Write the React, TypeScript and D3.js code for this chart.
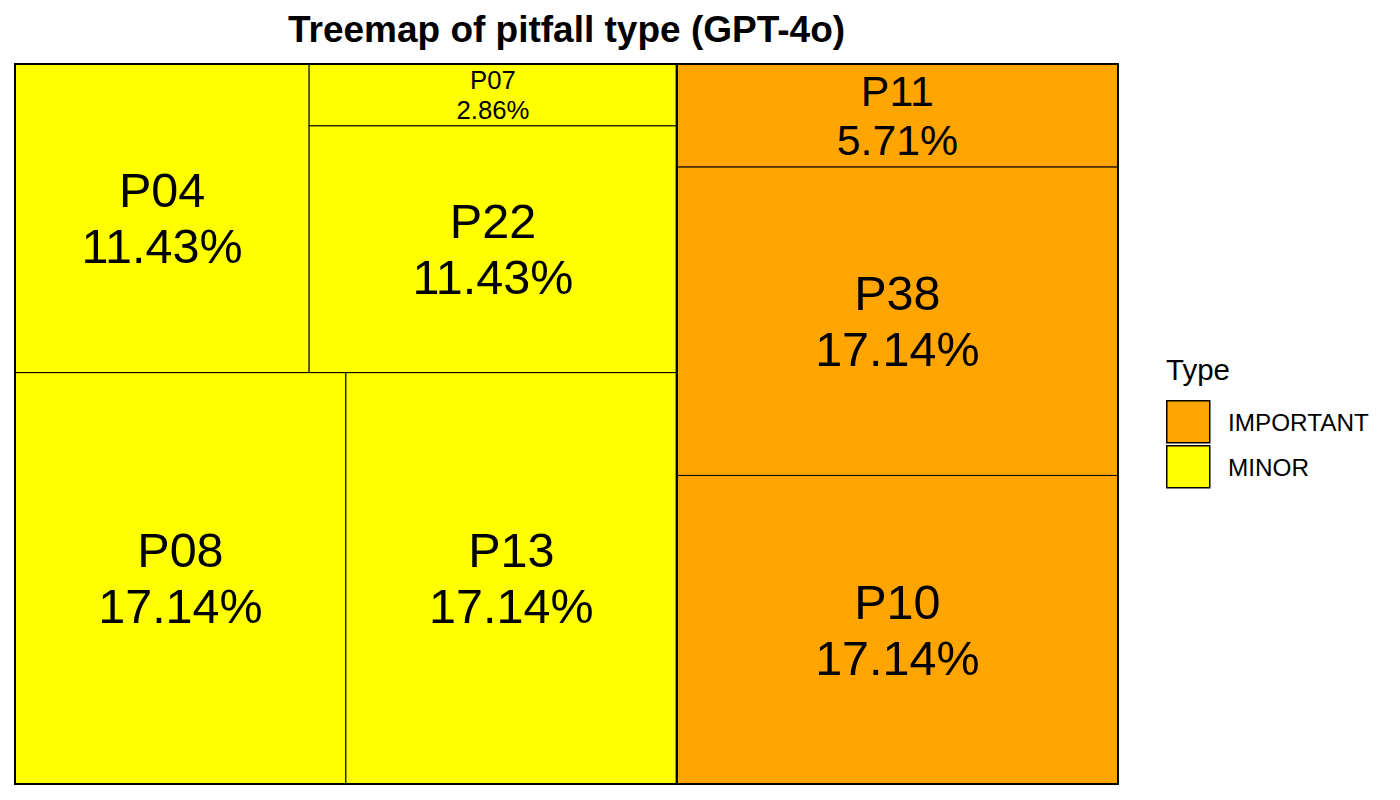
import React from 'react';
import * as d3 from 'd3';

const pitfalls = ['P08', 'P13', 'P04', 'P22', 'P07', 'P10', 'P38', 'P11'];
const counts = [6, 6, 4, 4, 1, 6, 6, 2];
const types = ['MINOR', 'MINOR', 'MINOR', 'MINOR', 'MINOR', 'IMPORTANT', 'IMPORTANT', 'IMPORTANT'];
const typeLevels = ['IMPORTANT', 'MINOR'];
const typeColors = ['#FFA500', '#FFFF00'];
const groupOrder = ['MINOR', 'IMPORTANT'];
const chartTitle = 'Treemap of pitfall type (GPT-4o)';
const legendTitle = 'Type';

const W = 1400;
const H = 800;
const plot = { x0: 15, x1: 1118, y0: 64, y1: 784 };
const FONT = '"Liberation Sans", Arial, sans-serif';

export default function App() {
  const total = d3.sum(counts);
  const data = {
    name: 'root',
    children: groupOrder.map((g) => ({
      name: g,
      children: pitfalls
        .map((p, i) => ({ name: p, value: counts[i], type: types[i] }))
        .filter((d) => d.type === g),
    })),
  };
  const root = d3
    .hierarchy<any>(data)
    .sum((d: any) => d.value || 0)
    .sort((a, b) => (b.value || 0) - (a.value || 0));
  d3.treemap<any>().tile(d3.treemapSquarify.ratio(1)).size([1, 1]).round(false)(root);

  const xs = d3.scaleLinear().domain([0, 1]).range([plot.x0, plot.x1]);
  const ys = d3.scaleLinear().domain([0, 1]).range([plot.y1, plot.y0]);
  const color = d3.scaleOrdinal<string, string>().domain(typeLevels).range(typeColors);

  const leaves = root.leaves() as any[];
  const groups = (root.children || []) as any[];

  return (
    <svg width={W} height={H} style={{ position: 'absolute', left: 0, top: 0 }} fontFamily={FONT}>
      <rect width={W} height={H} fill="#fff" />
      <text x={(plot.x0 + plot.x1) / 2} y={42} textAnchor="middle" fontSize={37} fontWeight="bold">
        {chartTitle}
      </text>
      {leaves.map((l) => {
        const x = xs(l.x0);
        const w = xs(l.x1) - xs(l.x0);
        const y = ys(l.y1);
        const h = ys(l.y0) - ys(l.y1);
        const fs = Math.min(48.5, h / 2.4);
        const lh = fs * 1.15;
        const cx = x + w / 2;
        const cy = y + h / 2;
        const pct = ((l.data.value / total) * 100).toFixed(2) + '%';
        return (
          <g key={l.data.name}>
            <rect x={x} y={y} width={w} height={h} fill={color(l.data.type)} stroke="#000" strokeWidth={1} />
            <text x={cx} y={cy - lh / 2} textAnchor="middle" dominantBaseline="central" fontSize={fs}>
              {l.data.name}
            </text>
            <text x={cx} y={cy + lh / 2} textAnchor="middle" dominantBaseline="central" fontSize={fs}>
              {pct}
            </text>
          </g>
        );
      })}
      {groups.map((g) => (
        <rect
          key={g.data.name}
          x={xs(g.x0)}
          y={ys(g.y1)}
          width={xs(g.x1) - xs(g.x0)}
          height={ys(g.y0) - ys(g.y1)}
          fill="none"
          stroke="#000"
          strokeWidth={2}
        />
      ))}
      <g transform="translate(1166,0)">
        <text x={0} y={380} fontSize={29.5}>
          {legendTitle}
        </text>
        {typeLevels.map((t, i) => (
          <g key={t} transform={`translate(0,${400 + i * 45})`}>
            <rect x={0.75} y={0.75} width={43} height={42} fill={color(t)} stroke="#000" strokeWidth={1.5} />
            <text x={62} y={22} dominantBaseline="central" fontSize={24.3}>
              {t}
            </text>
          </g>
        ))}
      </g>
    </svg>
  );
}
